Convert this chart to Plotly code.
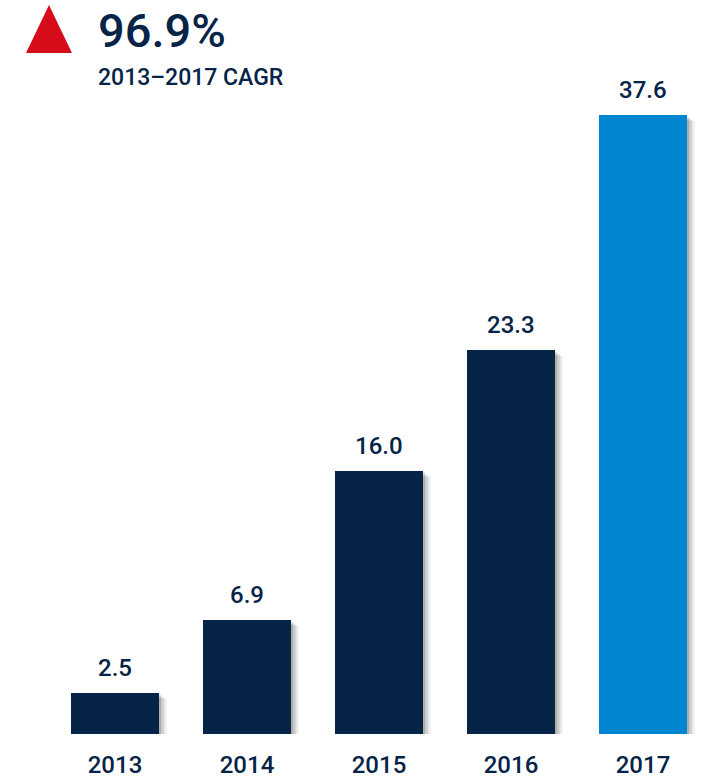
import plotly.graph_objects as go

# Annual values and labels
years = ["2013", "2014", "2015", "2016", "2017"]
values = [2.5, 6.9, 16.0, 23.3, 37.6]
value_labels = ["2.5", "6.9", "16.0", "23.3", "37.6"]
cagr_text = "96.9%"
cagr_caption = "2013\u20132017 CAGR"

NAVY = "#052447"
BLUE = "#0085D0"
RED = "#D70C1A"
FONT = "Roboto"
WEIGHT = 500

W, H = 705, 778
BOTTOM_MARGIN = 44
PLOT_H = H - BOTTOM_MARGIN
PX_PER_UNIT = 619 / 37.6          # vertical scale in pixels per unit
STEP_PX = 132                     # horizontal distance between bars
FIRST_CENTER_PX = 115
BAR_W = 88 / STEP_PX

xs = list(range(len(years)))
colors = [NAVY] * (len(years) - 1) + [BLUE]

fig = go.Figure()

# soft drop shadow built from a few offset, translucent layers
shadow_layers = [(1.5, 1.5, 0.10), (3, 3, 0.08), (4.5, 4, 0.07), (6, 5, 0.06), (8, 6, 0.05)]
for dx, dy, a in shadow_layers:
    fig.add_trace(go.Bar(
        x=xs, y=values,
        base=[-dy / PX_PER_UNIT] * len(values),
        width=BAR_W,
        offset=-BAR_W / 2 + dx / STEP_PX,
        marker=dict(color=f"rgba(0,0,0,{a})", line=dict(width=0)),
        hoverinfo="skip", showlegend=False,
    ))

fig.add_trace(go.Bar(
    x=xs, y=values, width=BAR_W,
    marker=dict(color=colors, line=dict(width=0)),
    showlegend=False,
))

# value labels above bars
for x, v, t in zip(xs, values, value_labels):
    fig.add_annotation(
        x=x, y=v, text=t, showarrow=False, xanchor="center", yanchor="bottom",
        yshift=9, font=dict(family=FONT, size=24, color=NAVY, weight=WEIGHT),
    )

x_lo = -FIRST_CENTER_PX / STEP_PX
x_hi = (W - FIRST_CENTER_PX) / STEP_PX

# header: red triangle, growth figure and caption
def px_x(p):
    return p / W

def px_y(p):
    return (PLOT_H - p) / PLOT_H

fig.add_shape(
    type="path", xref="paper", yref="paper",
    path=f"M {px_x(26)} {px_y(53)} L {px_x(72)} {px_y(53)} L {px_x(49)} {px_y(5)} Z",
    fillcolor=RED, line=dict(width=0),
)
fig.add_annotation(
    xref="paper", yref="paper", x=px_x(96), y=px_y(30), text=cagr_text,
    showarrow=False, xanchor="left", yanchor="middle",
    font=dict(family=FONT, size=47, color=NAVY, weight=WEIGHT),
)
fig.add_annotation(
    xref="paper", yref="paper", x=px_x(96), y=px_y(77), text=cagr_caption,
    showarrow=False, xanchor="left", yanchor="middle",
    font=dict(family=FONT, size=23, color=NAVY, weight=WEIGHT),
)

fig.update_layout(
    width=W, height=H,
    margin=dict(l=0, r=0, t=0, b=BOTTOM_MARGIN, pad=0),
    paper_bgcolor="white", plot_bgcolor="white",
    barmode="overlay", bargap=0,
    xaxis=dict(
        range=[x_lo, x_hi], tickvals=xs, ticktext=years,
        showgrid=False, zeroline=False, showline=False, ticks="",
        ticklabelstandoff=14, automargin=False,
        tickfont=dict(family=FONT, size=24, color=NAVY, weight=WEIGHT),
    ),
    yaxis=dict(
        range=[0, PLOT_H / PX_PER_UNIT], visible=False, showgrid=False, zeroline=False,
        automargin=False,
    ),
)

fig.write_html("out.html")
